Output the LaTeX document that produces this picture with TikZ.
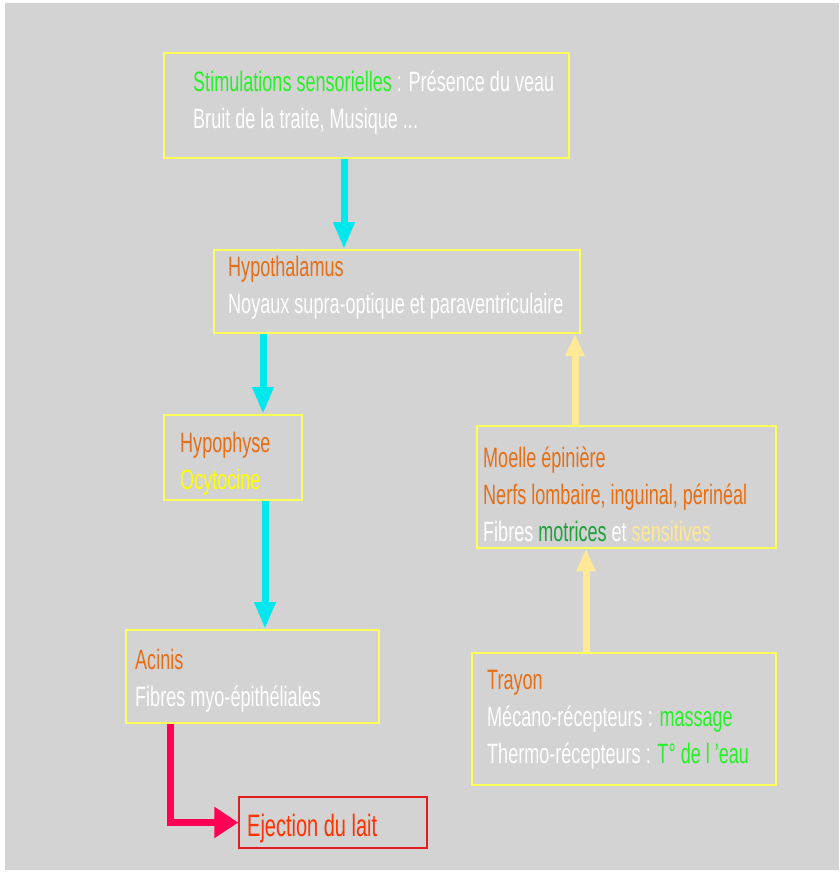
\documentclass[tikz,border=0pt]{standalone}
\usepackage{fontspec}
\setmainfont{Liberation Sans}[FakeStretch=0.645]
\usetikzlibrary{arrows.meta}
\definecolor{fond}{RGB}{211,211,211}
\definecolor{jaunecadre}{RGB}{255,255,90}
\definecolor{orangetxt}{RGB}{230,110,20}
\definecolor{verttxt}{RGB}{40,240,40}
\definecolor{vertfonce}{RGB}{30,160,60}
\definecolor{jaunepale}{RGB}{255,232,150}
\definecolor{jauneocy}{RGB}{255,255,0}
\definecolor{bleufleche}{RGB}{0,232,238}
\definecolor{rougefleche}{RGB}{255,0,85}
\definecolor{rougetxt}{RGB}{255,50,0}
\definecolor{rougecadre}{RGB}{225,30,30}
\tikzset{
  cadre/.style={draw=jaunecadre, line width=2pt, inner sep=0pt},
  texte/.style={anchor=base west, align=left, inner sep=0pt, text=white, font=\fontsize{28}{37}\selectfont},
  flechebleue/.style={draw=bleufleche, line width=7pt, -{Triangle[length=27pt,width=20pt]}},
  flechejaune/.style={draw=jaunepale, line width=7pt, -{Triangle[length=22pt,width=18pt]}},
  flecherouge/.style={draw=rougefleche, line width=7pt, line join=miter, -{Triangle[length=24pt,width=30pt]}}
}
% box from its two corners (x1,y1)(x2,y2), in pixels of the slide
\def\cadre[#1](#2)(#3,#4)(#5,#6){\node[cadre, #1, minimum width={#5-#3}, minimum height={#6-#4}] (#2) at ({(#3+#5)/2},{(#4+#6)/2}) {};}

\begin{document}
\begin{tikzpicture}[x=1pt, y=-1pt]
		%%%%% START %%%%%
		\useasboundingbox (0,0) rectangle (839,873);
		\fill[fond] (5,3) rectangle (839,870);
		
		\cadre[](stim)(164,53)(569,158)
		\cadre[](hypo)(214,250)(580,333)
		\cadre[](hypoph)(164,415)(302,500)
		\cadre[](moelle)(477,426)(776,548)
		\cadre[](acinis)(126,630)(379,723)
		\cadre[](trayon)(472,653)(776,785)
		\cadre[draw=rougecadre, line width=1.5pt](ejection)(239,797)(427,848)
		
		% the base of a text node is the baseline of its last line
		\node[texte] (stimtxt) at (193,128) {\textcolor{verttxt}{Stimulations sensorielles} : Présence du veau\\Bruit de la traite, Musique ...};
		\node[texte] (hypotxt) at (228,313) {\textcolor{orangetxt}{Hypothalamus}\\Noyaux supra-optique et paraventriculaire};
		\node[texte] (hypophtxt) at (180,489) {\textcolor{orangetxt}{Hypophyse}\\\textcolor{jauneocy}{Ocytocine}};
		\node[texte] (moelletxt) at (483,541) {\textcolor{orangetxt}{Moelle épinière}\\\textcolor{orangetxt}{Nerfs lombaire, inguinal, périnéal}\\Fibres \textcolor{vertfonce}{motrices} et \textcolor{jaunepale}{sensitives}};
		\node[texte] (acinistxt) at (135,706) {\textcolor{orangetxt}{Acinis}\\Fibres myo-épithéliales};
		\node[texte] (trayontxt) at (487,763) {\textcolor{orangetxt}{Trayon}\\Mécano-récepteurs : \textcolor{verttxt}{massage}\\Thermo-récepteurs : \textcolor{verttxt}{T° de l 'eau}};
		\node[texte, text=rougetxt, font=\fontsize{31}{35}\selectfont] (ejectiontxt) at (247,836) {Ejection du lait};
		
		\draw[flechebleue] ([xshift=-22.5pt]stim.south) -- ([xshift=-53pt]hypo.north);
		\draw[flechebleue] ([xshift=-134pt]hypo.south) -- ([xshift=30pt]hypoph.north);
		\draw[flechebleue] ([xshift=32pt]hypoph.south) -- ([xshift=12.5pt]acinis.north);
		
		\draw[flechejaune] ([xshift=-51.5pt]moelle.north) -- ([xshift=178pt]hypo.south);
		\draw[flechejaune] ([xshift=-38pt]trayon.north) -- ([xshift=-40.5pt]moelle.south);
		
		\draw[flecherouge] ([xshift=-82.5pt]acinis.south) |- (ejection.west);
		%%%%% END %%%%%
	\end{tikzpicture}
\end{document}
